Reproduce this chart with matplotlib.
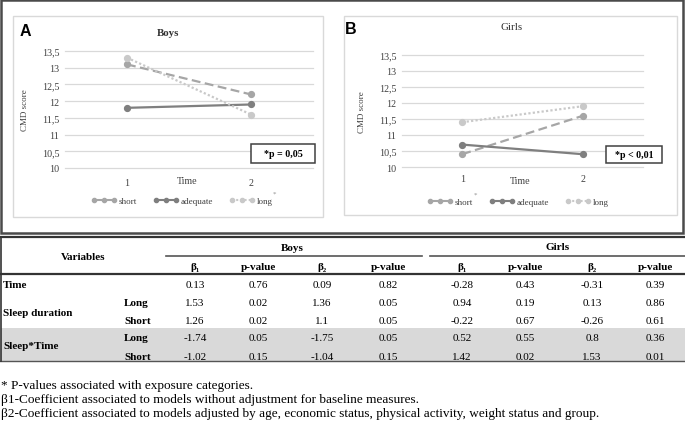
import matplotlib
matplotlib.use("Agg")
import matplotlib.pyplot as plt
from matplotlib.lines import Line2D
from matplotlib.patches import Rectangle

# ---------------- data ----------------
times = [1, 2]
time_labels = ["1", "2"]
series_names = ["short", "adequate", "long"]
boys_short = [13.1, 12.2]
boys_adequate = [11.8, 11.9]
boys_long = [13.3, 11.6]
girls_short = [10.4, 11.6]
girls_adequate = [10.7, 10.4]
girls_long = [11.4, 11.9]
y_ticks = [10, 10.5, 11, 11.5, 12, 12.5, 13, 13.5]
y_tick_labels = ["10", "10,5", "11", "11,5", "12", "12,5", "13", "13,5"]
boys_pnote = "*p = 0,05"
girls_pnote = "*p < 0,01"

table_vars = ["Time", "Sleep duration", "Sleep*Time"]
table_levels = ["", "Long", "Short", "Long", "Short"]
col_heads = ["β\u2081", "p-value", "β\u2082", "p-value"]
boys_b1 = [0.13, 1.53, 1.26, -1.74, -1.02]
boys_p1 = [0.76, 0.02, 0.02, 0.05, 0.15]
boys_b2 = [0.09, 1.36, 1.1, -1.75, -1.04]
boys_p2 = [0.82, 0.05, 0.05, 0.05, 0.15]
girls_b1 = [-0.28, 0.94, -0.22, 0.52, 1.42]
girls_p1 = [0.43, 0.19, 0.67, 0.55, 0.02]
girls_b2 = [-0.31, 0.13, -0.26, 0.8, 1.53]
girls_p2 = [0.39, 0.86, 0.61, 0.36, 0.01]
footnotes = [
    "* P-values associated with exposure categories.",
    "β1-Coefficient associated to models without adjustment for baseline measures.",
    "β2-Coefficient associated to models adjusted by age, economic status, physical activity, weight status and group.",
]

# ---------------- layout helpers ----------------
W, H = 685, 427
SERIF = "Liberation Serif"
SANS = "Liberation Sans"
fig = plt.figure(figsize=(W / 100, H / 100), dpi=100)


def fx(x):
    return x / W


def fy(y):
    return 1 - y / H


def hline(x0, x1, y, lw=1.0, color="#333333"):
    fig.add_artist(Line2D([fx(x0), fx(x1)], [fy(y), fy(y)], transform=fig.transFigure,
                          lw=lw, color=color))


def vline(x, y0, y1, lw=1.0, color="#333333"):
    fig.add_artist(Line2D([fx(x), fx(x)], [fy(y0), fy(y1)], transform=fig.transFigure,
                          lw=lw, color=color))


def rect(x0, y0, x1, y1, ec, lw, fc="none", z=0):
    fig.add_artist(Rectangle((fx(x0), fy(y1)), fx(x1) - fx(x0), fy(y0) - fy(y1),
                             transform=fig.transFigure, ec=ec, fc=fc, lw=lw, zorder=z))


def ftext(x, y, s, ha="center", size=7.5, weight="normal", family=SERIF, **kw):
    fig.text(fx(x), fy(y), s, ha=ha, va="center", fontsize=size, fontweight=weight,
             family=family, **kw)


# outer frame and panel frames
rect(1, 1, 683, 234, ec="#4a4a4a", lw=1.8)
rect(13, 17, 323, 218, ec="#d9d9d9", lw=1.0)
rect(344, 17, 677, 216, ec="#d9d9d9", lw=1.0)

colors = {"short": "#a6a6a6", "adequate": "#7f7f7f", "long": "#c9c9c9"}
styles = {"short": (0, (4, 2)), "adequate": "-", "long": (0, (1, 1))}
TXT = "#404040"


def draw_panel(rect_px, data, title, title_bold, letter, letter_xy, title_xy,
               ylab_x, time_xy, legend_xy, note, note_box, star_xy, tick_pad):
    l, t, r, b = rect_px
    ax = fig.add_axes([fx(l), fy(b), (r - l) / W, (b - t) / H])
    for name, vals in zip(series_names, data):
        ax.plot(times, vals, color=colors[name], ls=styles[name], lw=1.6,
                marker="o", ms=4.2, label=name, zorder=3)
    ax.set_xlim(0.5, 2.5)
    ax.set_ylim(10, 13.5)
    ax.set_yticks(y_ticks)
    ax.set_yticklabels(y_tick_labels, family=SERIF, fontsize=7.2, color=TXT)
    ax.set_xticks(times)
    ax.set_xticklabels(time_labels, family=SERIF, fontsize=7.2, color=TXT)
    ax.tick_params(axis="y", length=0, pad=4)
    ax.tick_params(axis="x", length=0, pad=tick_pad)
    for s in ax.spines.values():
        s.set_visible(False)
    for yv in y_ticks:
        ax.axhline(yv, color="#d9d9d9", lw=0.9, zorder=1, clip_on=False)
    ax.set_facecolor("none")
    ftext(ylab_x, (t + b) / 2, "CMD score", size=6.5, color=TXT, rotation=90)
    ftext(time_xy[0], time_xy[1], "Time", size=7.2, color=TXT)
    ftext(title_xy[0], title_xy[1], title, size=7.8, weight="bold" if title_bold else "normal",
          color="#303030")
    ftext(letter_xy[0], letter_xy[1], letter, size=11.5, weight="bold", family=SANS,
          color="black")
    handles = [Line2D([0], [0], color=colors[n], ls=styles[n], lw=1.5, marker="o", ms=3)
               for n in series_names]
    leg = fig.legend(handles, series_names, loc="center",
                     bbox_to_anchor=(fx(legend_xy[0]), fy(legend_xy[1])),
                     ncol=3, frameon=False, numpoints=3, handlelength=2.8,
                     handletextpad=0.25, columnspacing=1.8,
                     prop={"family": SERIF, "size": 6.5})
    for txt in leg.get_texts():
        txt.set_color(TXT)
    x0, y0, x1, y1 = note_box
    rect(x0, y0, x1, y1, ec="#404040", lw=1.1, fc="white", z=5)
    ftext((x0 + x1) / 2, (y0 + y1) / 2, note, size=7.2, weight="bold", color="black",
          zorder=6)
    ftext(star_xy[0], star_xy[1], "*", size=5, color="#909090")


draw_panel((65, 52, 313, 169), [boys_short, boys_adequate, boys_long], "Boys", True,
           "A", (25, 32), (168, 33), 25, (187, 182), (182, 202), boys_pnote,
           (251, 145, 315, 164), (274, 194), 7)
draw_panel((402, 56, 643, 168), [girls_short, girls_adequate, girls_long], "Girls", False,
           "B", (351, 30), (512, 28), 362, (520, 181), (518, 203), girls_pnote,
           (606, 147, 662, 164), (475, 195), 5)

# ---------------- table ----------------
row_y = [286, 304, 322, 339, 357]
rect(1, 329, 685, 362, ec="none", lw=0, fc="#d9d9d9", z=0)
hline(0, 685, 238, lw=1.6)
hline(166, 422, 257, lw=1.2, color="#555555")
hline(430, 685, 257, lw=1.2, color="#555555")
hline(0, 685, 275, lw=1.6)
hline(0, 685, 362, lw=1.0, color="#555555")
vline(1, 238, 362, lw=1.2)

TS = 8.0
ftext(83, 257, "Variables", size=TS, weight="bold")
ftext(292, 249, "Boys", size=TS, weight="bold")
ftext(558, 248, "Girls", size=TS, weight="bold")
boys_cols = [195, 258, 322, 388]
girls_cols = [462, 525, 592, 655]
for cx, h in zip(boys_cols + girls_cols, col_heads + col_heads):
    ftext(cx, 268, h, size=TS, weight="bold")

ftext(3, row_y[0], table_vars[0], ha="left", size=TS, weight="bold")
ftext(3, (row_y[1] + row_y[2]) / 2 + 1, table_vars[1], ha="left", size=TS, weight="bold")
ftext(3, (row_y[3] + row_y[4]) / 2 - 1, table_vars[2], ha="left", size=TS, weight="bold")
for yv, lev in zip(row_y, table_levels):
    if lev:
        ftext(124, yv, lev, ha="left", size=TS, weight="bold")

cols = [boys_b1, boys_p1, boys_b2, boys_p2, girls_b1, girls_p1, girls_b2, girls_p2]
for cx, col in zip(boys_cols + girls_cols, cols):
    for yv, v in zip(row_y, col):
        ftext(cx, yv, str(v), size=TS)

for yv, note in zip([386, 400, 414], footnotes):
    ftext(1, yv, note, ha="left", size=9.5)

fig.savefig("out.png", dpi=100)
